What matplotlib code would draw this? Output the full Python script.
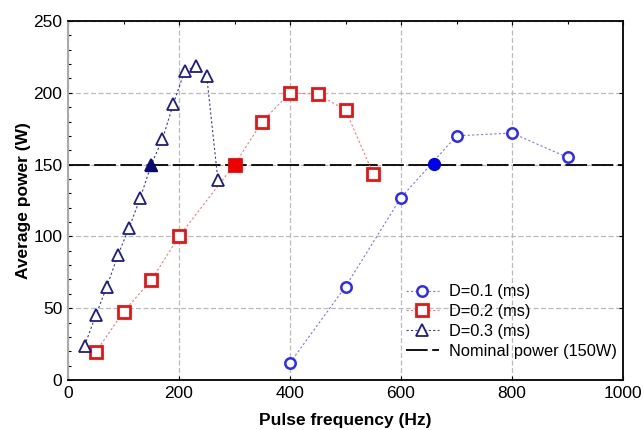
import matplotlib
matplotlib.use("Agg")
import matplotlib.pyplot as plt
from matplotlib.ticker import MultipleLocator

plt.rcParams['font.family'] = ['Liberation Sans', 'DejaVu Sans']

# D = 0.1 ms
f1 = [400, 500, 600, 700, 800, 900]
p1 = [12, 65, 127, 170, 172, 155]
f1_nom, p1_nom = 660, 150.5

# D = 0.2 ms
f2 = [50, 100, 150, 200, 300, 350, 400, 450, 500, 550]
p2 = [19.5, 47.5, 69.5, 100, 150, 180, 200, 199, 188, 143.5]
f2_nom, p2_nom = 300, 150

# D = 0.3 ms
f3 = [30, 50, 70, 90, 110, 130, 150, 170, 190, 210, 230, 250, 270]
p3 = [24, 45, 65, 87, 106, 126.5, 150, 167.5, 192.5, 215, 218.5, 211.5, 139.5]
f3_nom, p3_nom = 150, 150

nominal = 150

c1, c2, c3 = '#2b2bff', '#ee1111', '#1c1c8c'

fig = plt.figure(figsize=(6.43, 4.30), dpi=100)
ax = fig.add_axes([68/643, 1-380/430, 555/643, 359/430])

ax.plot(f1, p1, ls=(0, (2, 2)), lw=0.8, color='#7777ff', marker='o', ms=7.5,
        mfc='white', mec=c1, mew=1.8, label='D=0.1 (ms)', zorder=3)
ax.plot(f2, p2, ls=(0, (2, 2)), lw=0.8, color='#ff7777', marker='s', ms=8.5,
        mfc='white', mec=c2, mew=2.0, label='D=0.2 (ms)', zorder=3)
ax.plot(f3, p3, ls=(0, (2, 2)), lw=0.8, color='#3a3aa0', marker='^', ms=8.5,
        mfc='white', mec=c3, mew=1.3, label='D=0.3 (ms)', zorder=3)
ax.axhline(nominal, color='black', lw=1.3, dashes=(12, 2.5),
           label='Nominal power (150W)', zorder=2)

ax.plot([f1_nom], [p1_nom], marker='o', ms=8.5, color='#0000ee', ls='none', zorder=4)
ax.plot([f2_nom], [p2_nom], marker='s', ms=9, color='#ee0000', ls='none', zorder=4)
ax.plot([f3_nom], [p3_nom], marker='^', ms=9, color='#0a0a70', ls='none', zorder=4)

ax.set_xlim(0, 1000)
ax.set_ylim(0, 250)
ax.xaxis.set_major_locator(MultipleLocator(200))
ax.yaxis.set_major_locator(MultipleLocator(50))
ax.yaxis.set_minor_locator(MultipleLocator(10))
ax.xaxis.set_minor_locator(MultipleLocator(100))
ax.grid(True, which='major', color='#bbbbbb', ls=(0, (4, 2)), lw=0.9)
ax.set_axisbelow(True)

ax.tick_params(axis='both', which='major', direction='in', length=3,
               labelsize=12.5, top=True, right=True, pad=4, width=0.8)
ax.tick_params(axis='both', which='minor', direction='in', length=2,
               top=True, right=False, bottom=False, left=True, width=0.8)
for s in ['top', 'right', 'bottom']:
    ax.spines[s].set_color('black')
    ax.spines[s].set_linewidth(1.3)
ax.spines['left'].set_color('#aaaaaa')
ax.spines['left'].set_linewidth(1.5)

ax.set_xlabel('Pulse frequency (Hz)', fontsize=12.5, fontweight='bold', labelpad=9)
ax.set_ylabel('Average power (W)', fontsize=12.5, fontweight='bold', labelpad=2)

leg = ax.legend(loc='lower right', bbox_to_anchor=(1.012, 0.022), frameon=False,
                fontsize=11.8, handlelength=2.0, handletextpad=0.6,
                labelspacing=0.3, borderpad=0.3)

fig.savefig('out.png', dpi=100)
